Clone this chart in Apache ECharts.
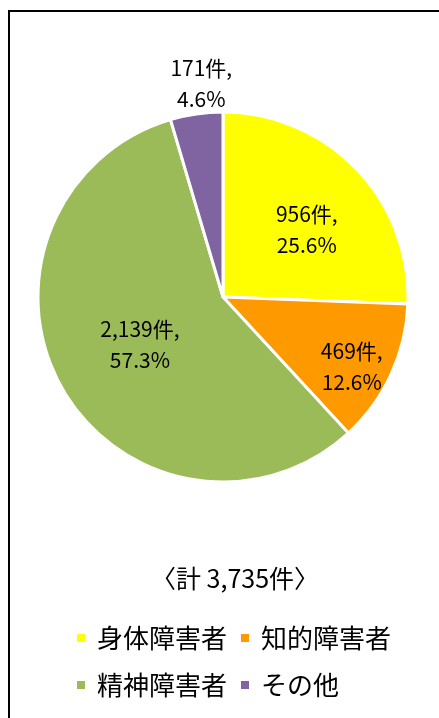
<!DOCTYPE html>
<html>
<head>
<meta charset="utf-8">
<script src="https://cdn.jsdelivr.net/npm/echarts@6/dist/echarts.min.js"></script>
<style>
html,body{margin:0;padding:0;background:#fff;}
#main{width:439px;height:718px;}
</style>
</head>
<body>
<div id="main"></div>
<script>
const categories = ['身体障害者', '知的障害者', '精神障害者', 'その他'];
const values = [956, 469, 2139, 171];
const colors = ['#FFFF00', '#FF9900', '#9BBB59', '#8064A2'];
const totalLabel = '〈計 3,735件〉';

const total = values.reduce((a, b) => a + b, 0);
const labelShift = [[15, -1], [42, 30], [0, 0], [-8, -119]];
const FONT = '"Noto Sans CJK JP", "Noto Sans", sans-serif';

const chart = echarts.init(document.getElementById('main'), null, {renderer: 'canvas'});
chart.setOption({
  animation: false,
  backgroundColor: '#fff',
  color: colors,
  graphic: [{
    type: 'rect',
    shape: {x: 9, y: 11, width: 480, height: 760},
    style: {fill: 'none', stroke: '#000', lineWidth: 2},
    silent: true
  }],
  title: {
    text: totalLabel,
    left: 151,
    top: 563,
    padding: 0,
    textStyle: {fontFamily: FONT, fontSize: 25, fontWeight: 'normal', color: '#000', lineHeight: 30}
  },
  legend: [{
    data: categories.slice(0, 2),
    left: 75,
    top: 623,
    padding: 0,
    orient: 'horizontal',
    icon: 'rect',
    itemWidth: 10,
    itemHeight: 10,
    itemGap: 12,
    selectedMode: false,
    textStyle: {fontFamily: FONT, fontSize: 26, color: '#000', lineHeight: 30, padding: [0, 0, 0, 6]}
  }, {
    data: categories.slice(2, 4),
    left: 75,
    top: 670,
    padding: 0,
    orient: 'horizontal',
    icon: 'rect',
    itemWidth: 10,
    itemHeight: 10,
    itemGap: 12,
    selectedMode: false,
    textStyle: {fontFamily: FONT, fontSize: 26, color: '#000', lineHeight: 30, padding: [0, 0, 0, 6]}
  }],
  series: [{
    type: 'pie',
    center: [223, 297],
    radius: 185,
    startAngle: 90,
    clockwise: true,
    avoidLabelOverlap: false,
    emphasis: {disabled: true},
    itemStyle: {borderColor: '#fff', borderWidth: 3},
    label: {
      show: true,
      position: 'inside',
      fontFamily: FONT,
      fontSize: 21,
      lineHeight: 31,
      color: '#000',
      align: 'center',
      formatter: function (p) {
        return p.value.toLocaleString('en-US') + '件,\n' + (p.value / total * 100).toFixed(1) + '%';
      }
    },
    labelLine: {show: false},
    labelLayout: function (p) {
      const s = labelShift[p.dataIndex];
      return {dx: s[0], dy: s[1]};
    },
    data: categories.map((c, i) => ({name: c, value: values[i]}))
  }]
});
</script>
</body>
</html>
